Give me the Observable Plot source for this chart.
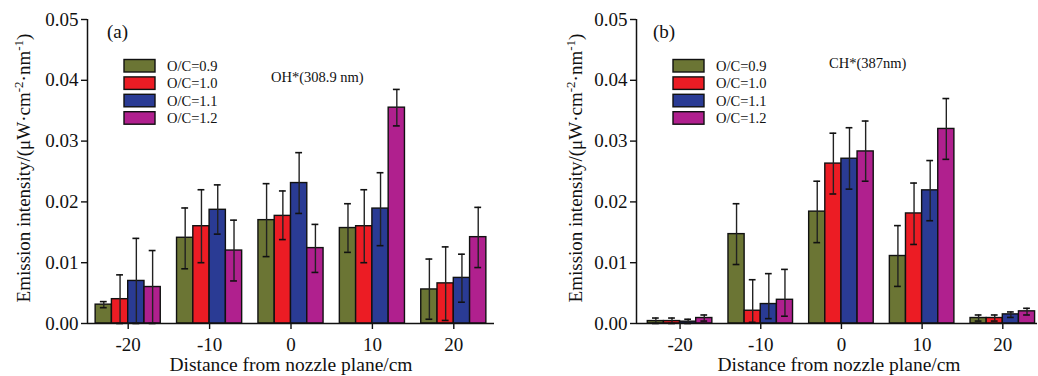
<!DOCTYPE html>
<html>
<head>
<meta charset="utf-8">
<script src="https://cdn.jsdelivr.net/npm/d3@7"></script>
<script src="https://cdn.jsdelivr.net/npm/@observablehq/plot@0.6"></script>
<style>
  html, body { margin: 0; padding: 0; background: #ffffff; }
  #wrap { display: flex; width: 1038px; height: 376px; overflow: hidden; }
  svg { display: block; }
</style>
</head>
<body>
<div id="wrap"></div>
<script>
// ---------- data ----------
const distances = [-20, -10, 0, 10, 20];
const series = ["O/C=0.9", "O/C=1.0", "O/C=1.1", "O/C=1.2"];
const seriesColors = ["#6b7534", "#ec1c24", "#2a3b94", "#b0208e"];
const yTicks = [0, 0.01, 0.02, 0.03, 0.04, 0.05];

// OH* (308.9 nm) — rows: series, columns: distances
const ohValues = [
  [0.0031, 0.0141, 0.0170, 0.0157, 0.0056],
  [0.0040, 0.0160, 0.0177, 0.0160, 0.0066],
  [0.0070, 0.0187, 0.0231, 0.0189, 0.0075],
  [0.0060, 0.0120, 0.0124, 0.0355, 0.0142]
];
const ohLow = [
  [0.0026, 0.0090, 0.0110, 0.0117, 0.0007],
  [0.0000, 0.0100, 0.0138, 0.0100, 0.0005],
  [0.0000, 0.0147, 0.0181, 0.0128, 0.0035],
  [0.0000, 0.0070, 0.0084, 0.0325, 0.0092]
];
const ohHigh = [
  [0.0036, 0.0190, 0.0230, 0.0197, 0.0106],
  [0.0080, 0.0220, 0.0218, 0.0220, 0.0126],
  [0.0140, 0.0228, 0.0281, 0.0248, 0.0114],
  [0.0120, 0.0170, 0.0163, 0.0385, 0.0191]
];

// CH* (387 nm)
const chValues = [
  [0.0004, 0.0147, 0.0184, 0.0111, 0.0009],
  [0.0004, 0.0021, 0.0263, 0.0181, 0.0009],
  [0.0003, 0.0032, 0.0271, 0.0219, 0.0015],
  [0.0009, 0.0039, 0.0283, 0.0320, 0.0020]
];
const chLow = [
  [0.0000, 0.0097, 0.0133, 0.0061, 0.0004],
  [0.0000, 0.0002, 0.0213, 0.0130, 0.0004],
  [0.0000, 0.0008, 0.0221, 0.0169, 0.0010],
  [0.0004, 0.0012, 0.0234, 0.0270, 0.0014]
];
const chHigh = [
  [0.0009, 0.0197, 0.0234, 0.0161, 0.0014],
  [0.0009, 0.0072, 0.0313, 0.0231, 0.0014],
  [0.0007, 0.0082, 0.0322, 0.0268, 0.0019],
  [0.0014, 0.0089, 0.0333, 0.0370, 0.0025]
];

const xLabel = "Distance from nozzle plane/cm";
const FONT = "'Liberation Serif', 'Times New Roman', Times, serif";

function makeRows(vals, lo, hi) {
  const rows = [];
  series.forEach((s, si) => {
    distances.forEach((d, di) => {
      rows.push({
        series: s,
        dist: d,
        pos: d + (si - 1.5) * 2,   // bar centre within the group (2 cm wide bars)
        value: vals[si][di],
        low: lo[si][di],
        high: hi[si][di]
      });
    });
  });
  return rows;
}

function panel(cfg) {
  const rows = makeRows(cfg.values, cfg.low, cfg.high);
  const svg = Plot.plot({
    width: cfg.width,
    height: 376,
    marginLeft: cfg.marginLeft,
    marginRight: cfg.marginRight,
    marginTop: 19,
    marginBottom: 53,
    style: { fontFamily: FONT, fontSize: "19px", color: "#111", background: "#ffffff", overflow: "visible" },
    x: {
      domain: cfg.xDomain,
      ticks: distances,
      tickFormat: d => String(d),
      tickSize: 6,
      tickPadding: 8,
      label: null
    },
    y: {
      domain: [0, 0.05],
      ticks: yTicks,
      tickFormat: d3.format(".2f"),
      tickSize: 6,
      tickPadding: 3,
      label: null
    },
    color: { domain: series, range: seriesColors },
    marks: [
      Plot.rectY(rows, {
        x1: d => d.pos - 1, x2: d => d.pos + 1, y1: 0, y2: "value",
        fill: "series", stroke: "#111", strokeWidth: 1.4
      }),
      Plot.ruleX(rows, { x: "pos", y1: "low", y2: "high", stroke: "#222", strokeWidth: 1.4, clip: false }),
      Plot.ruleY(rows, { y: "high", x1: d => d.pos - 0.42, x2: d => d.pos + 0.42, stroke: "#111", strokeWidth: 1.6 }),
      Plot.ruleY(rows, { y: "low", x1: d => d.pos - 0.42, x2: d => d.pos + 0.42, stroke: "#111", strokeWidth: 1.6 }),
      Plot.ruleY([0], { stroke: "#111", strokeWidth: 1.5 }),
      Plot.ruleX([cfg.xDomain[0]], { stroke: "#111", strokeWidth: 1.5 })
    ]
  });

  const s = d3.select(svg);
  s.selectAll("[aria-label='x-axis tick'], [aria-label='y-axis tick']").attr("stroke-width", 1.4);

  // Y-axis title with superscripts
  const yl = s.append("text")
    .attr("transform", `translate(${cfg.yLabelX},168) rotate(-90)`)
    .attr("text-anchor", "middle")
    .attr("font-family", FONT)
    .attr("font-size", 19)
    .attr("fill", "#111");
  yl.append("tspan").text("Emission intensity/(μW·cm");
  yl.append("tspan").attr("dy", -7).attr("font-size", 13).text("-2");
  yl.append("tspan").attr("dy", 7).text("·nm");
  yl.append("tspan").attr("dy", -7).attr("font-size", 13).text("-1");
  yl.append("tspan").attr("dy", 7).text(")");

  // X-axis title
  s.append("text")
    .attr("x", cfg.xLabelX).attr("y", 371)
    .attr("text-anchor", "middle")
    .attr("font-family", FONT).attr("font-size", 19.5).attr("fill", "#111")
    .text(xLabel);

  // panel letter
  s.append("text")
    .attr("x", cfg.letterX).attr("y", 38)
    .attr("text-anchor", "start")
    .attr("font-family", FONT).attr("font-size", 19).attr("fill", "#111")
    .text(cfg.letter);

  // species annotation
  s.append("text")
    .attr("x", cfg.noteX).attr("y", cfg.noteY)
    .attr("text-anchor", "start")
    .attr("font-family", FONT).attr("font-size", 14.5).attr("fill", "#111")
    .text(cfg.note);

  // legend
  const lg = s.append("g").attr("text-anchor", "start");
  series.forEach((name, i) => {
    const cy = 66 + i * 17.4;
    lg.append("rect")
      .attr("x", cfg.legendX).attr("y", cy - 6.5)
      .attr("width", 31).attr("height", 12.5)
      .attr("fill", seriesColors[i]).attr("stroke", "#111").attr("stroke-width", 1.4);
    lg.append("text")
      .attr("x", cfg.legendX + 43).attr("y", cy + 5)
      .attr("text-anchor", "start")
      .attr("font-family", FONT).attr("font-size", 14.5).attr("fill", "#111")
      .text(name);
  });
  return svg;
}

const wrap = document.getElementById("wrap");
wrap.appendChild(panel({
  width: 520, marginLeft: 87, marginRight: 26, xDomain: [-25, 25],
  values: ohValues, low: ohLow, high: ohHigh,
  yLabelX: 30, xLabelX: 291, letter: "(a)", letterX: 107,
  note: "OH*(308.9 nm)", noteX: 271, noteY: 82, legendX: 124
}));
wrap.appendChild(panel({
  width: 518, marginLeft: 116, marginRight: 1, xDomain: [-25.4, 24.3],
  values: chValues, low: chLow, high: chHigh,
  yLabelX: 62, xLabelX: 319, letter: "(b)", letterX: 133,
  note: "CH*(387nm)", noteX: 309, noteY: 68, legendX: 153
}));
</script>
</body>
</html>
